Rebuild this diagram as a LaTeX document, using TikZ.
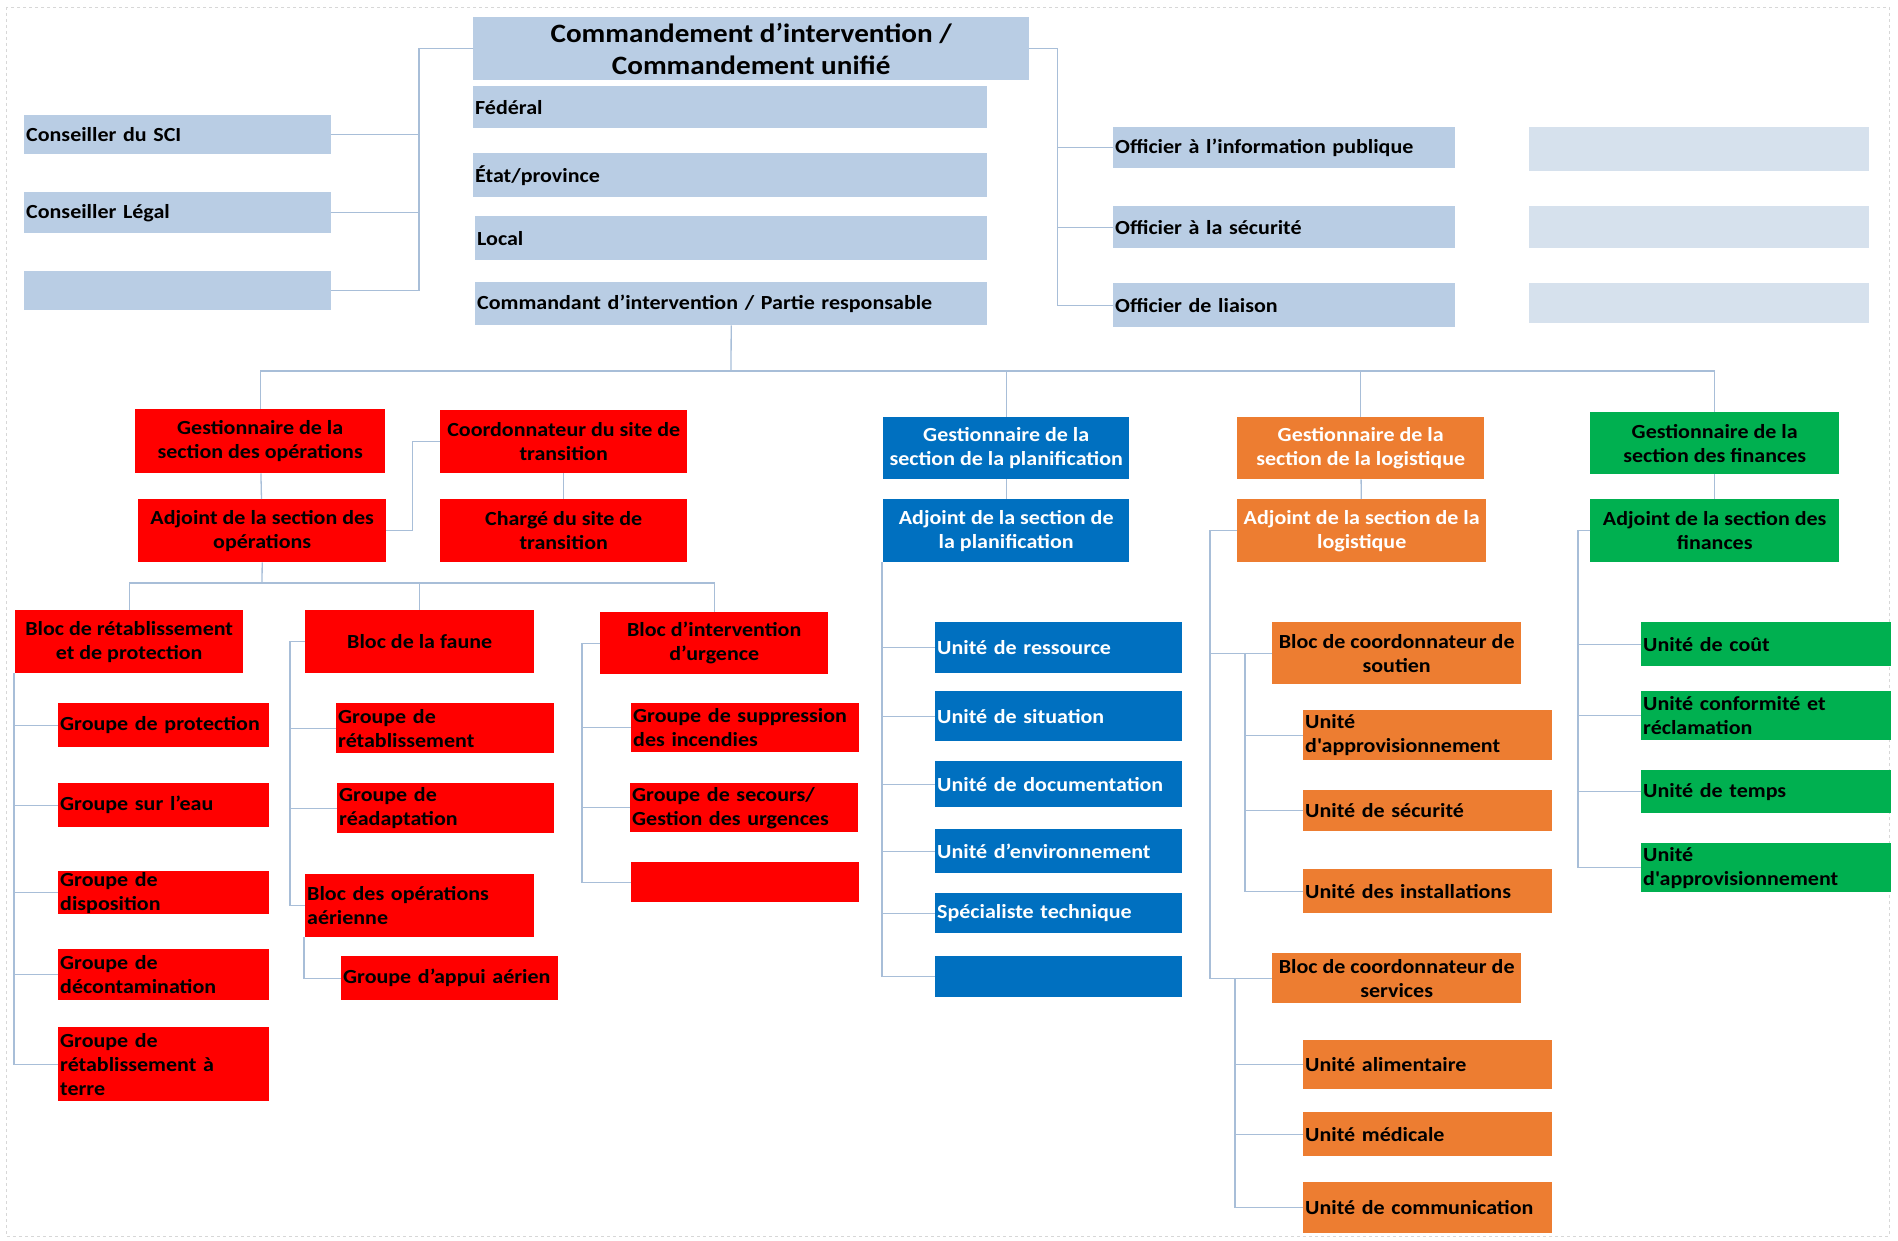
\documentclass[tikz,border=0pt]{standalone}
\usepackage{fontspec}
\setmainfont{Carlito}[FakeStretch=1.1]

\definecolor{ciel}{RGB}{185,205,228}
\definecolor{pale}{RGB}{214,225,237}
\definecolor{rouge}{RGB}{255,0,0}
\definecolor{bleu}{RGB}{0,112,192}
\definecolor{orangeL}{RGB}{237,125,49}
\definecolor{vert}{RGB}{0,176,80}
\definecolor{trait}{RGB}{168,190,216}
\definecolor{cadre}{RGB}{215,215,215}

\tikzset{
  boite/.style 2 args={anchor=north west, inner xsep=2pt, inner ysep=0pt,
    minimum width=#1, minimum height=#2, text width=#1-4,
    font=\fontsize{20}{24}\selectfont\bfseries},
  gauche/.style={align=left},
  centre/.style={text width={}, align=center},
  ciel/.style={fill=ciel, text=black},
  pale/.style={fill=pale},
  rouge/.style={fill=rouge, text=black},
  bleu/.style={fill=bleu, text=white},
  orangeB/.style={fill=orangeL, text=white},
  orangeN/.style={fill=orangeL, text=black},
  vert/.style={fill=vert, text=black},
  lien/.style={draw=trait, line width=1.3pt}
}

\begin{document}
\begin{tikzpicture}[x=1pt, y=-1pt]
    \useasboundingbox (0,0) rectangle (1898,1241);
    \draw[cadre, dashed, line width=0.8pt] (6,7) rectangle (1889,1236);

    % Commandement
    \node[boite={556}{63}, ciel, centre, font=\fontsize{26.5}{32}\selectfont\bfseries] (hdr) at (473,17) {Commandement d’intervention /\\Commandement unifié};
    \node[boite={514}{42}, ciel, gauche] (fed) at (473,86) {Fédéral};
    \node[boite={514}{44}, ciel, gauche] (etat) at (473,153) {État/province};
    \node[boite={512}{44}, ciel, gauche] (loc) at (475,216) {Local};
    \node[boite={512}{43}, ciel, gauche] (cmd) at (475,282) {Commandant d’intervention / Partie responsable};

    \node[boite={307}{39}, ciel, gauche] (csci) at (24,115) {Conseiller du SCI};
    \node[boite={307}{41}, ciel, gauche] (cleg) at (24,192) {Conseiller Légal};
    \node[boite={307}{39}, ciel] (cvide) at (24,271) {};

    \node[boite={342}{41}, ciel, gauche] (oip) at (1113,127) {Officier à l’information publique};
    \node[boite={342}{42}, ciel, gauche] (osec) at (1113,206) {Officier à la sécurité};
    \node[boite={342}{44}, ciel, gauche] (olia) at (1113,283) {Officier de liaison};

    \node[boite={340}{44}, pale] (pale1) at (1529,127) {};
    \node[boite={340}{42}, pale] (pale2) at (1529,206) {};
    \node[boite={340}{40}, pale] (pale3) at (1529,283) {};

    % Opérations
    \node[boite={250}{64}, rouge, centre] (gop) at (135,409) {Gestionnaire de la\\section des opérations};
    \node[boite={247}{63}, rouge, centre] (cst) at (440,410) {Coordonnateur du site de\\transition};
    \node[boite={248}{63}, rouge, centre] (aop) at (138,499) {Adjoint de la section des\\opérations};
    \node[boite={247}{63}, rouge, centre] (chs) at (440,499) {Chargé du site de\\transition};

    \node[boite={228}{63}, rouge, centre] (bret) at (15,610) {Bloc de rétablissement\\et de protection};
    \node[boite={229}{63}, rouge, centre] (faune) at (305,610) {Bloc de la faune};
    \node[boite={228}{62}, rouge, centre] (interv) at (600,612) {Bloc d’intervention\\d’urgence};

    \node[boite={211}{44}, rouge, gauche] (gprot) at (58,703) {Groupe de protection};
    \node[boite={211}{44}, rouge, gauche] (geau) at (58,783) {Groupe sur l’eau};
    \node[boite={211}{43}, rouge, gauche] (gdisp) at (58,871) {Groupe de\\disposition};
    \node[boite={211}{51}, rouge, gauche] (gdeco) at (58,949) {Groupe de\\décontamination};
    \node[boite={211}{74}, rouge, gauche] (gterre) at (58,1027) {Groupe de\\rétablissement à\\terre};

    \node[boite={218}{50}, rouge, gauche] (gretab) at (336,703) {Groupe de\\rétablissement};
    \node[boite={217}{50}, rouge, gauche] (gread) at (337,783) {Groupe de\\réadaptation};
    \node[boite={229}{63}, rouge, gauche] (aer) at (305,874) {Bloc des opérations\\aérienne};
    \node[boite={217}{44}, rouge, gauche] (appui) at (341,956) {Groupe d’appui aérien};

    \node[boite={228}{49}, rouge, gauche] (gsupp) at (631,703) {Groupe de suppression\\des incendies};
    \node[boite={228}{49}, rouge, gauche] (gsec) at (630,783) {Groupe de secours/\\Gestion des urgences};
    \node[boite={228}{40}, rouge] (rvide) at (631,862) {};

    % Planification
    \node[boite={246}{62}, bleu, centre] (gpl) at (883,417) {Gestionnaire de la\\section de la planification};
    \node[boite={246}{63}, bleu, centre] (apl) at (883,499) {Adjoint de la section de\\la planification};
    \node[boite={247}{51}, bleu, gauche] (ures) at (935,622) {Unité de ressource};
    \node[boite={247}{50}, bleu, gauche] (usit) at (935,691) {Unité de situation};
    \node[boite={247}{46}, bleu, gauche] (udoc) at (935,761) {Unité de documentation};
    \node[boite={247}{44}, bleu, gauche] (uenv) at (935,829) {Unité d’environnement};
    \node[boite={247}{40}, bleu, gauche] (uspec) at (935,893) {Spécialiste technique};
    \node[boite={247}{41}, bleu] (bvide) at (935,956) {};

    % Logistique
    \node[boite={247}{62}, orangeB, centre] (glog) at (1237,417) {Gestionnaire de la\\section de la logistique};
    \node[boite={249}{63}, orangeB, centre] (alog) at (1237,499) {Adjoint de la section de la\\logistique};
    \node[boite={249}{62}, orangeN, centre] (bsout) at (1272,622) {Bloc de coordonnateur de\\soutien};
    \node[boite={249}{50}, orangeN, gauche] (uappro) at (1303,710) {Unité\\d\textquotesingle approvisionnement};
    \node[boite={249}{41}, orangeN, gauche] (usec) at (1303,790) {Unité de sécurité};
    \node[boite={249}{44}, orangeN, gauche] (uinst) at (1303,869) {Unité des installations};
    \node[boite={249}{50}, orangeN, centre] (bserv) at (1272,953) {Bloc de coordonnateur de\\services};
    \node[boite={249}{49}, orangeN, gauche] (ualim) at (1303,1040) {Unité alimentaire};
    \node[boite={249}{44}, orangeN, gauche] (umed) at (1303,1112) {Unité médicale};
    \node[boite={249}{51}, orangeN, gauche] (ucom) at (1303,1182) {Unité de communication};

    % Finances
    \node[boite={249}{62}, vert, centre] (gfin) at (1590,412) {Gestionnaire de la\\section des finances};
    \node[boite={249}{63}, vert, centre] (afin) at (1590,499) {Adjoint de la section des\\finances};
    \node[boite={250}{44}, vert, gauche] (ucout) at (1641,622) {Unité de coût};
    \node[boite={250}{49}, vert, gauche] (uconf) at (1641,691) {Unité conformité et\\réclamation};
    \node[boite={250}{43}, vert, gauche] (utemps) at (1641,770) {Unité de temps};
    \node[boite={250}{49}, vert, gauche] (uappv) at (1641,843) {Unité\\d\textquotesingle approvisionnement};

    % Liens du haut
    \draw[lien] (hdr.west) -- ++(-54,0) |- (csci.east);
    \draw[lien] (hdr.west) -- ++(-54,0) |- (cleg.east);
    \draw[lien] (hdr.west) -- ++(-54,0) |- (cvide.east);
    \draw[lien] (hdr.east) -- ++(28,0) |- (oip.west);
    \draw[lien] (hdr.east) -- ++(28,0) |- (osec.west);
    \draw[lien] (hdr.east) -- ++(28,0) |- (olia.west);

    % Sections
    \coordinate (bus) at (731,371);
    \draw[lien] (cmd.south) -- (bus);
    \draw[lien] (bus) -| (gop.north);
    \draw[lien] (bus) -| (gpl.north);
    \draw[lien] (bus) -| (glog.north);
    \draw[lien] (bus) -| (gfin.north);

    \draw[lien] (gop) -- (aop);
    \draw[lien] (cst) -- (chs);
    \draw[lien] (aop.east) -- ++(26,0) |- (cst.west);
    \draw[lien] (gpl) -- (apl);
    \draw[lien] (glog) -- (alog);
    \draw[lien] (gfin) -- (afin);

    % Blocs des opérations
    \coordinate (busop) at (262,583);
    \draw[lien] (aop.south) -- (busop);
    \draw[lien] (busop) -| (bret.north);
    \draw[lien] (busop) -| (faune.north);
    \draw[lien] (busop) -| (interv.north);

    \foreach \g in {gprot,geau,gdisp,gdeco,gterre}
      \draw[lien] ([xshift=-1pt]bret.south west) |- (\g.west);
    \foreach \g in {gretab,gread,aer}
      \draw[lien] (faune.west) -- ++(-15,0) |- (\g.west);
    \draw[lien] ([xshift=-1pt]aer.south west) |- (appui.west);
    \foreach \g in {gsupp,gsec,rvide}
      \draw[lien] (interv.west) -- ++(-18,0) |- (\g.west);

    % Unités
    \foreach \u in {ures,usit,udoc,uenv,uspec,bvide}
      \draw[lien] ([xshift=-1pt]apl.south west) |- (\u.west);
    \draw[lien] (alog.west) -- ++(-27,0) |- (bsout.west);
    \draw[lien] (alog.west) -- ++(-27,0) |- (bserv.west);
    \foreach \u in {uappro,usec,uinst}
      \draw[lien] (bsout.west) -- ++(-27,0) |- (\u.west);
    \foreach \u in {ualim,umed,ucom}
      \draw[lien] (bserv.west) -- ++(-37,0) |- (\u.west);
    \foreach \u in {ucout,uconf,utemps,uappv}
      \draw[lien] (afin.west) -- ++(-12,0) |- (\u.west);
\end{tikzpicture}
\end{document}
